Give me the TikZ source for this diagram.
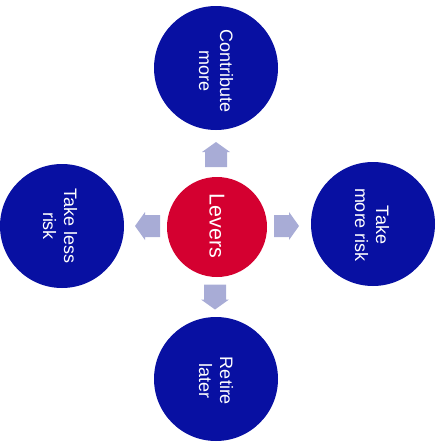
\documentclass[tikz,border=0pt]{standalone}
\usepackage{fontspec}
\setmainfont{Liberation Sans}
\definecolor{leverblue}{RGB}{8,16,162}
\definecolor{leverred}{RGB}{212,0,48}
\definecolor{arrowfill}{RGB}{168,172,214}
\begin{document}
\begin{tikzpicture}[x=1pt,y=-1pt,
  option/.style={circle,fill=leverblue,minimum size=124pt,inner sep=0pt},
  hub/.style={circle,fill=leverred,minimum size=100pt,inner sep=0pt},
  vlabel/.style={text=white,rotate=-90,align=center,inner sep=0pt,
    font=\fontsize{18}{21}\selectfont},
  blockarrow/.pic={
    \fill[arrowfill] (-12.5,-11) -- (2.5,-11) -- (2.5,-14) -- (12.5,0)
      -- (2.5,14) -- (2.5,11) -- (-12.5,11) -- cycle;
  }]
\useasboundingbox (0,0) rectangle (442,442);
% hub and the four options
\node[hub] (levers) at (217,227) {};
\node[option] (top) at (216,68) {};
\node[option] (left) at (62,226) {};
\node[option] (right) at (373,224) {};
\node[option] (bottom) at (216,379) {};
% labels, set vertically
\node[vlabel,font=\fontsize{21.5}{24}\selectfont] (tlevers) at (217,226) {Levers};
\node[vlabel] (ttop) at (216,71) {Contribute\\more};
\node[vlabel] (tleft) at (60,226) {Take less\\risk};
\node[vlabel] (tright) at (372,225) {Take\\more risk};
\node[vlabel] (tbottom) at (216,381) {Retire\\later};
% block arrows pointing from the hub to each option
\pic[rotate=90] at (216,154.5) {blockarrow};
\pic at (286.5,226) {blockarrow};
\pic[rotate=180] at (147.5,226) {blockarrow};
\pic[rotate=-90] at (215,297) {blockarrow};
\end{tikzpicture}
\end{document}
